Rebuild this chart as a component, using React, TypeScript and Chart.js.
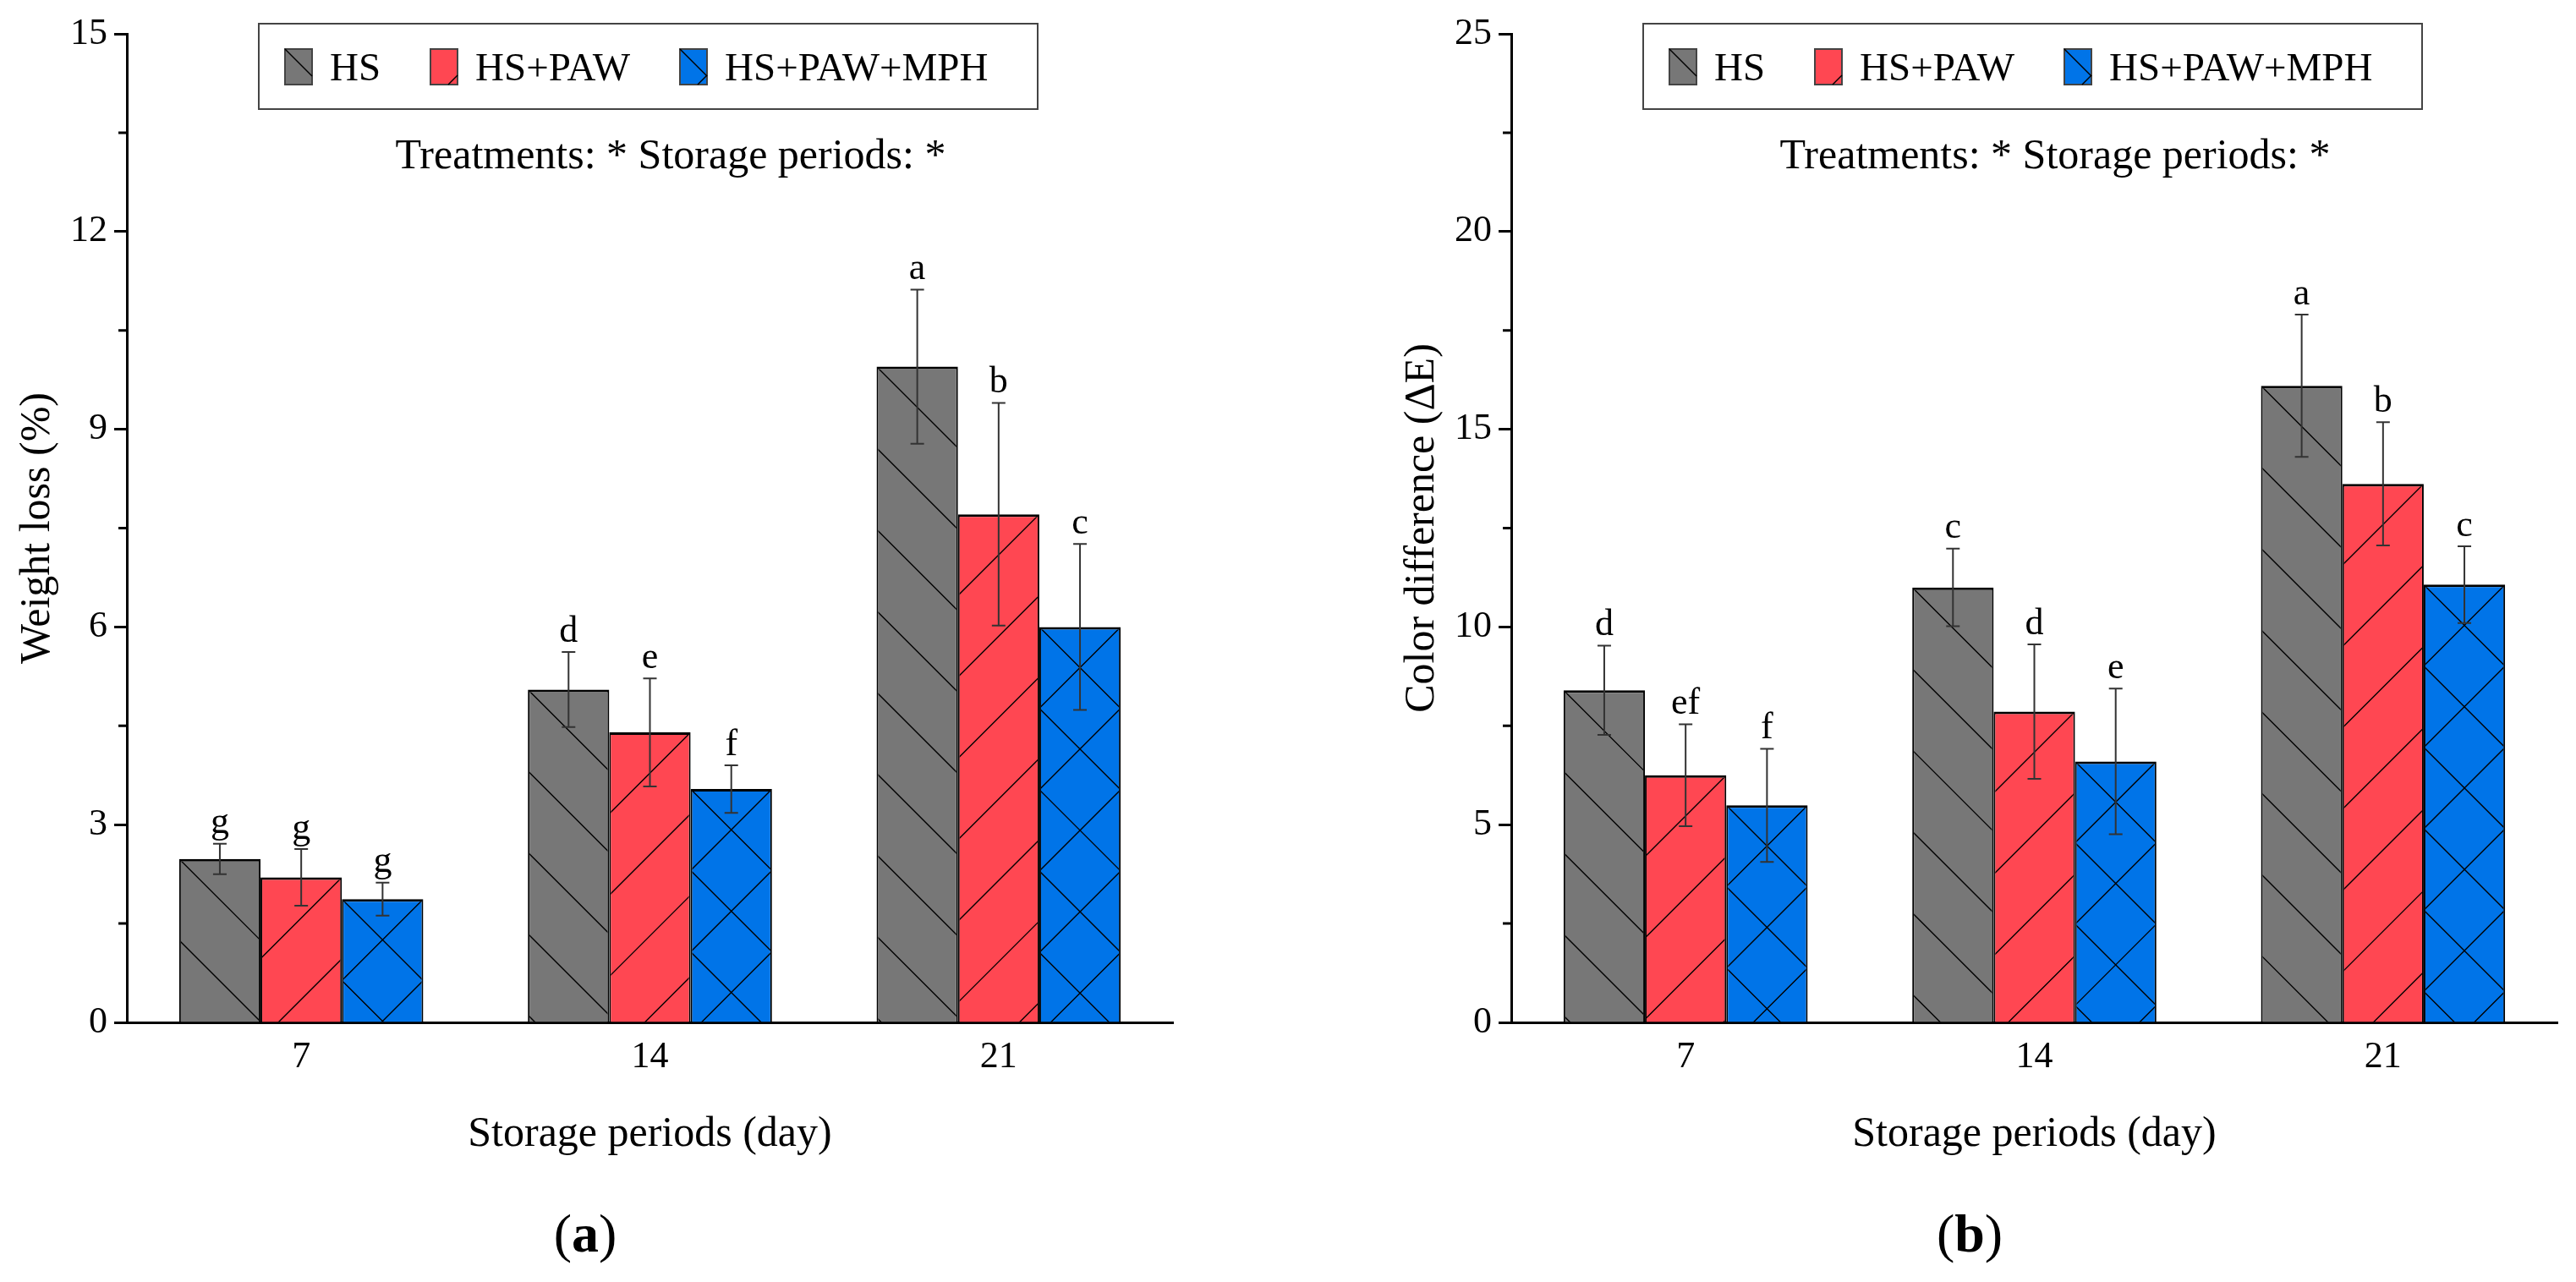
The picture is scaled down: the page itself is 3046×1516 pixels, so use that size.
import { useEffect, useRef } from "react"
import { Chart, BarController, BarElement, CategoryScale, LinearScale, type Plugin } from "chart.js"

Chart.register(BarController, BarElement, CategoryScale, LinearScale)

const FONT = "'Liberation Serif', 'DejaVu Serif', serif"

const DAYS = ["7", "14", "21"]
const SERIES = ["HS", "HS+PAW", "HS+PAW+MPH"]
const COLORS = ["#777777", "#ff4752", "#0074e8"]

// (a) weight loss, %
const LOSS_HS = [2.48, 5.05, 9.95]
const LOSS_PAW = [2.2, 4.4, 7.71]
const LOSS_MPH = [1.87, 3.54, 6.0]
const LOSS_HS_SD = [0.23, 0.57, 1.17]
const LOSS_PAW_SD = [0.43, 0.82, 1.69]
const LOSS_MPH_SD = [0.25, 0.36, 1.26]
const LOSS_HS_TAGS = ["g", "d", "a"]
const LOSS_PAW_TAGS = ["g", "e", "b"]
const LOSS_MPH_TAGS = ["g", "f", "c"]

// (b) colour difference, dE
const COLOR_HS = [8.4, 11.0, 16.1]
const COLOR_PAW = [6.25, 7.86, 13.62]
const COLOR_MPH = [5.49, 6.6, 11.07]
const COLOR_HS_SD = [1.13, 0.98, 1.8]
const COLOR_PAW_SD = [1.29, 1.7, 1.56]
const COLOR_MPH_SD = [1.43, 1.84, 0.97]
const COLOR_HS_TAGS = ["d", "c", "a"]
const COLOR_PAW_TAGS = ["ef", "d", "b"]
const COLOR_MPH_TAGS = ["f", "e", "c"]

type Hatch = "back" | "fwd" | "cross"
const HATCH: Hatch[] = ["back", "fwd", "cross"]

interface PanelProps {
  left: number
  tag: string
  yTitle: string
  max: number
  step: number
  major: number
  values: number[][]
  errors: number[][]
  tags: string[][]
}

const isMultiple = (v: number, m: number) => Math.abs(v / m - Math.round(v / m)) < 1e-6

function extrasPlugin(errors: number[][], tags: string[][], major: number): Plugin<"bar"> {
  return {
    id: "extras",
    afterDatasetsDraw(chart) {
      const { ctx } = chart
      const ys = chart.scales.y
      chart.data.datasets.forEach((ds, di) => {
        const kind = HATCH[di]
        chart.getDatasetMeta(di).data.forEach((el: any, i) => {
          const { x, y: top, base, width } = el.getProps(["x", "y", "base", "width"], true)
          const l = x - width / 2
          const r = x + width / 2

          // hatch, anchored at the bar top
          ctx.save()
          ctx.beginPath()
          ctx.rect(l + 2, top + 3, width - 4, base - top - 3)
          ctx.clip()
          ctx.strokeStyle = "#000"
          ctx.lineWidth = 1.4
          ctx.beginPath()
          const n = Math.ceil((base - top) / width) + 1
          for (let k = 0; k < n; k++) {
            const y0 = top + k * width
            if (kind !== "fwd") { ctx.moveTo(l, y0); ctx.lineTo(r, y0 + width) }
            if (kind !== "back") { ctx.moveTo(r, y0); ctx.lineTo(l, y0 + width) }
          }
          ctx.stroke()
          ctx.restore()

          // error bar
          const v = ds.data[i] as number
          const e = errors[di][i]
          const hi = ys.getPixelForValue(v + e)
          const lo = ys.getPixelForValue(v - e)
          ctx.save()
          ctx.strokeStyle = "#333"
          ctx.lineWidth = 2
          ctx.beginPath()
          ctx.moveTo(x, hi); ctx.lineTo(x, lo)
          ctx.moveTo(x - 8, hi); ctx.lineTo(x + 8, hi)
          ctx.moveTo(x - 8, lo); ctx.lineTo(x + 8, lo)
          ctx.stroke()

          // significance letter
          ctx.fillStyle = "#000"
          ctx.font = `44px ${FONT}`
          ctx.textAlign = "center"
          ctx.textBaseline = "bottom"
          ctx.fillText(tags[di][i], x, hi - 2)
          ctx.restore()
        })
      })
    },
    afterDraw(chart) {
      // short minor ticks on the y axis
      const { ctx } = chart
      const s = chart.scales.y
      ctx.save()
      ctx.strokeStyle = "#000"
      ctx.lineWidth = 3
      ctx.beginPath()
      s.ticks.forEach((t, i) => {
        if (isMultiple(t.value, major)) return
        const py = s.getPixelForTick(i)
        ctx.moveTo(s.right - 10, py)
        ctx.lineTo(s.right, py)
      })
      ctx.stroke()
      ctx.restore()
    },
  }
}

function Swatch({ i }: { i: number }) {
  return (
    <svg width={34} height={44} style={{ display: "block" }}>
      <rect x={1} y={1} width={32} height={42} fill={COLORS[i]} stroke="#444" strokeWidth={2} />
      {i !== 1 && <line x1={1} y1={1} x2={33} y2={33} stroke="#000" strokeWidth={1.4} />}
      {i !== 0 && <line x1={33} y1={32} x2={22} y2={43} stroke="#000" strokeWidth={1.4} />}
    </svg>
  )
}

function Panel({ left, tag, yTitle, max, step, major, values, errors, tags }: PanelProps) {
  const canvasRef = useRef<HTMLCanvasElement>(null)

  useEffect(() => {
    if (!canvasRef.current) return
    const chart = new Chart(canvasRef.current, {
      type: "bar",
      data: {
        labels: DAYS,
        datasets: SERIES.map((name, i) => ({
          label: name,
          data: values[i],
          backgroundColor: COLORS[i],
          borderColor: "#000",
          borderWidth: { top: 3, left: 2, right: 2, bottom: 0 },
          barPercentage: 1,
          categoryPercentage: 0.7,
        })),
      },
      options: {
        animation: false,
        responsive: true,
        maintainAspectRatio: false,
        events: [],
        layout: { padding: { top: 40, right: 13, bottom: 21, left: 0 } },
        plugins: { legend: { display: false }, tooltip: { enabled: false } },
        scales: {
          x: {
            grid: { display: false, drawTicks: false },
            border: { display: true, color: "#000", width: 3 },
            ticks: { color: "#000", font: { size: 44 }, padding: 15 },
            title: { display: true, text: "Storage periods (day)", color: "#000", font: { size: 50 }, padding: { top: 0, bottom: 7 } },
            afterFit: (s: any) => { s.height = 170 },
          },
          y: {
            min: 0,
            max,
            grid: {
              drawOnChartArea: false,
              drawTicks: true,
              tickLength: 15,
              tickWidth: 3,
              tickColor: (c: any) => (isMultiple(c.tick.value, major) ? "#000" : "rgba(0,0,0,0)"),
            },
            border: { display: true, color: "#000", width: 3 },
            ticks: {
              stepSize: step,
              autoSkip: false,
              padding: 8,
              color: "#000",
              font: { size: 44 },
              callback: (v: any) => (isMultiple(Number(v), major) ? String(v) : ""),
            },
            title: { display: true, text: yTitle, color: "#000", font: { size: 50 }, padding: { top: 15, bottom: 0 } },
            afterFit: (s: any) => { s.width = 150 },
          },
        },
      },
      plugins: [extrasPlugin(errors, tags, major)],
    })
    return () => chart.destroy()
  }, [values, errors, tags, max, step, major, yTitle])

  return (
    <div style={{ position: "absolute", left, top: 0, width: 1400, height: 1516 }}>
      <div style={{ position: "absolute", left: 0, top: 0, width: 1400, height: 1400 }}>
        <canvas ref={canvasRef} />
      </div>

      <div style={{
        position: "absolute", left: 305, top: 27, width: 923, height: 103, boxSizing: "border-box",
        border: "2px solid #444", display: "flex", alignItems: "center", paddingLeft: 29,
        fontSize: 47, color: "#000",
      }}>
        {SERIES.map((name, i) => (
          <div key={name} style={{ display: "flex", alignItems: "center", marginRight: i < 2 ? 58 : 0 }}>
            <Swatch i={i} />
            <span style={{ marginLeft: 20, lineHeight: "50px" }}>{name}</span>
          </div>
        ))}
      </div>

      <div style={{ position: "absolute", left: 393, top: 157, width: 800, textAlign: "center", fontSize: 50, lineHeight: "50px", color: "#000" }}>
        Treatments: * Storage periods: *
      </div>

      <div style={{ position: "absolute", left: 592, top: 1427, width: 200, textAlign: "center", fontSize: 64, lineHeight: "64px", color: "#000" }}>
        (<b>{tag}</b>)
      </div>
    </div>
  )
}

export default function App() {
  useEffect(() => { document.body.style.margin = "0" }, [])
  Chart.defaults.font.family = FONT

  return (
    <div style={{ position: "relative", width: 3046, height: 1516, background: "#fff", overflow: "hidden", fontFamily: FONT }}>
      <Panel
        left={0}
        tag="a"
        yTitle="Weight loss (%)"
        max={15}
        step={1.5}
        major={3}
        values={[LOSS_HS, LOSS_PAW, LOSS_MPH]}
        errors={[LOSS_HS_SD, LOSS_PAW_SD, LOSS_MPH_SD]}
        tags={[LOSS_HS_TAGS, LOSS_PAW_TAGS, LOSS_MPH_TAGS]}
      />
      <Panel
        left={1637}
        tag="b"
        yTitle="Color difference (ΔE)"
        max={25}
        step={2.5}
        major={5}
        values={[COLOR_HS, COLOR_PAW, COLOR_MPH]}
        errors={[COLOR_HS_SD, COLOR_PAW_SD, COLOR_MPH_SD]}
        tags={[COLOR_HS_TAGS, COLOR_PAW_TAGS, COLOR_MPH_TAGS]}
      />
    </div>
  )
}
